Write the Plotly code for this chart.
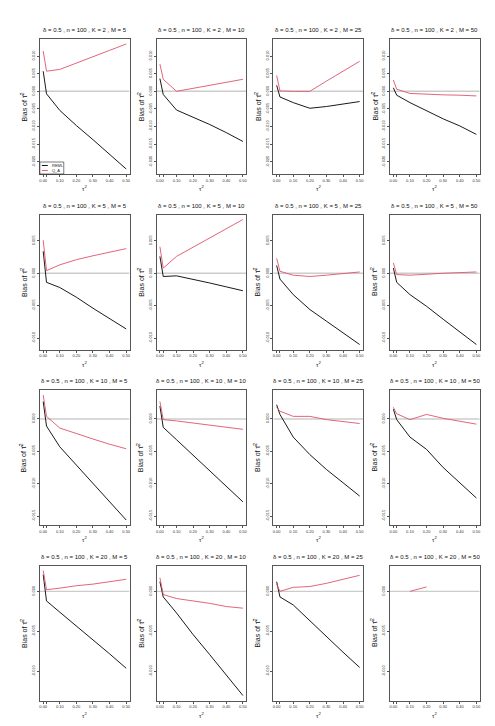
import plotly.graph_objects as go
from plotly.subplots import make_subplots

# tau^2 grid used in the simulation
tau2 = [0, 0.02, 0.1, 0.2, 0.3, 0.4, 0.5]
tau2_ticks = [0, 0.02, 0.1, 0.2, 0.3, 0.4, 0.5]
tau2_labels = ["0.00", "", "0.10", "0.20", "0.30", "0.40", "0.50"]

K_values = [2, 5, 10, 20]
M_values = [5, 10, 25, 50]

# bias of tau^2 estimate, one list per M (columns), REML
reml_K2 = [
    [0.0057, -0.0007, -0.0054, -0.0097, -0.0137, -0.0179, -0.0220],
    [0.0036, -0.0009, -0.0053, -0.0073, -0.0094, -0.0117, -0.0142],
    [0.0017, -0.0016, -0.0032, -0.0048, -0.0043, -0.0036, -0.0029],
    [0.0010, -0.0011, -0.0032, -0.0056, -0.0078, -0.0098, -0.0122],
]
qa_K2 = [
    [0.0114, 0.0057, 0.0062, 0.0079, 0.0098, 0.0116, 0.0134],
    [0.0077, 0.0034, 0.0000, 0.0008, 0.0016, 0.0025, 0.0034],
    [0.0045, 0.0001, 0.0000, 0.0000, 0.0029, 0.0057, 0.0085],
    [0.0032, 0.0006, -0.0006, -0.0009, -0.0010, -0.0011, -0.0013],
]
reml_K5 = [
    [0.0034, -0.0014, -0.0022, -0.0037, -0.0054, -0.0070, -0.0086],
    [0.0026, -0.0005, -0.0004, -0.0009, -0.0015, -0.0021, -0.0027],
    [0.0012, -0.0009, -0.0033, -0.0056, -0.0074, -0.0092, -0.0110],
    [0.0008, -0.0014, -0.0033, -0.0051, -0.0071, -0.0091, -0.0110],
]
qa_K5 = [
    [0.0051, 0.0004, 0.0013, 0.0021, 0.0027, 0.0032, 0.0038],
    [0.0041, 0.0008, 0.0026, 0.0040, 0.0054, 0.0069, 0.0083],
    [0.0023, 0.0003, -0.0003, -0.0005, -0.0003, 0.0000, 0.0002],
    [0.0016, -0.0002, -0.0003, -0.0001, 0.0000, 0.0001, 0.0002],
]
reml_K10 = [
    [0.0027, -0.0011, -0.0043, -0.0071, -0.0099, -0.0128, -0.0156],
    [0.0020, -0.0013, -0.0032, -0.0056, -0.0080, -0.0104, -0.0128],
    [0.0022, 0.0007, -0.0028, -0.0055, -0.0078, -0.0098, -0.0119],
    [0.0015, -0.0001, -0.0028, -0.0047, -0.0075, -0.0098, -0.0122],
]
qa_K10 = [
    [0.0037, 0.0004, -0.0014, -0.0023, -0.0031, -0.0039, -0.0046],
    [0.0027, -0.0001, -0.0003, -0.0006, -0.0009, -0.0013, -0.0016],
    [0.0018, 0.0012, 0.0004, 0.0004, -0.0001, -0.0004, -0.0007],
    [0.0018, 0.0008, -0.0001, 0.0007, 0.0001, -0.0004, -0.0008],
]
reml_K20 = [
    [0.0021, -0.0012, -0.0026, -0.0043, -0.0061, -0.0078, -0.0096],
    [0.0012, -0.0007, -0.0027, -0.0054, -0.0079, -0.0105, -0.0130],
    [0.0012, -0.0007, -0.0017, -0.0037, -0.0056, -0.0076, -0.0095],
    [None, None, None, None, None, None, None],
]
qa_K20 = [
    [0.0026, 0.0002, 0.0004, 0.0007, 0.0009, 0.0012, 0.0015],
    [0.0017, -0.0004, -0.0009, -0.0012, -0.0015, -0.0019, -0.0021],
    [0.0009, 0.0000, 0.0005, 0.0006, 0.0010, 0.0015, 0.0020],
    [None, None, 0.0000, 0.00055, None, None, None],
]

reml_rows = [reml_K2, reml_K5, reml_K10, reml_K20]
qa_rows = [qa_K2, qa_K5, qa_K10, qa_K20]
ytick_lo = [-0.020, -0.010, -0.015, -0.010]
ytick_hi = [0.010, 0.005, 0.000, 0.000]

W, H = 495, 726
FONT = "Liberation Sans"
BLACK = "#000000"
RED = "#DF536B"
BOX = "#555555"
TXT = "#333333"

col_left = [31, 148.2, 265.4, 382.6]
box_w = 90
row_top = [31, 206.5, 382, 557.5]
box_h = 135


def px_x(x):
    return x / W


def px_y(y):
    return 1 - y / H


fig = make_subplots(rows=4, cols=4)
annotations = []
shapes = []

for r in range(4):
    vals = [v for s in reml_rows[r] + qa_rows[r] for v in s if v is not None]
    lo, hi = min(vals), max(vals)
    ext = 0.04 * (hi - lo)
    yrange = [lo - ext, hi + ext]
    for c in range(4):
        idx = r * 4 + c + 1
        fig.add_trace(go.Scatter(x=[-0.02, 0.52], y=[0, 0], mode="lines",
                                 line=dict(color="#CCCCCC", width=1.4),
                                 showlegend=False, hoverinfo="skip"),
                      row=r + 1, col=c + 1)
        fig.add_trace(go.Scatter(x=tau2, y=reml_rows[r][c], mode="lines",
                                 name="REML", line=dict(color=BLACK, width=0.9),
                                 showlegend=False, connectgaps=False),
                      row=r + 1, col=c + 1)
        fig.add_trace(go.Scatter(x=tau2, y=qa_rows[r][c], mode="lines",
                                 name="Q_A", line=dict(color=RED, width=0.9),
                                 showlegend=False, connectgaps=False),
                      row=r + 1, col=c + 1)

        x0, y0 = col_left[c], row_top[r]
        xd = [px_x(x0), px_x(x0 + box_w)]
        yd = [px_y(y0 + box_h), px_y(y0)]
        axis_common = dict(showline=True, mirror=True, linecolor=BOX, linewidth=1,
                           showgrid=False, zeroline=False, ticks="outside",
                           ticklen=2, tickwidth=0.6, tickcolor=BOX,
                           tickfont=dict(size=4, family=FONT, color=TXT))
        fig.update_xaxes(domain=xd, range=[-0.02, 0.52], tickmode="array",
                         tickvals=tau2_ticks, ticktext=tau2_labels,
                         row=r + 1, col=c + 1, **axis_common)
        nt = int(round((ytick_hi[r] - ytick_lo[r]) / 0.005)) + 1
        yt = [ytick_lo[r] + 0.005 * i for i in range(nt)]
        fig.update_yaxes(domain=yd, range=yrange, tickmode="array",
                         tickvals=yt, ticktext=["%.3f" % v for v in yt],
                         tickangle=-90, row=r + 1, col=c + 1, **axis_common)

        cx = x0 + box_w / 2
        annotations.append(dict(
            text="δ = 0.5 , n = 100 , K = %d , M = %d" % (K_values[r], M_values[c]),
            x=px_x(cx), y=px_y(y0 - 9), xref="paper", yref="paper",
            showarrow=False, font=dict(size=6, family=FONT, color="#111111"),
            xanchor="center", yanchor="middle"))
        annotations.append(dict(
            text="Bias of τ̂<sup>2</sup>", x=px_x(x0 - 16), y=px_y(y0 + box_h / 2),
            xref="paper", yref="paper", showarrow=False, textangle=-90,
            font=dict(size=7, family=FONT, color="#111111"),
            xanchor="center", yanchor="middle"))
        annotations.append(dict(
            text="τ<sup>2</sup>", x=px_x(cx), y=px_y(y0 + box_h + 14),
            xref="paper", yref="paper", showarrow=False,
            font=dict(size=6, family=FONT, color="#111111"),
            xanchor="center", yanchor="middle"))

# legend box in the first panel
lx, ly = col_left[0], row_top[0] + box_h
shapes.append(dict(type="rect", xref="paper", yref="paper",
                   x0=px_x(lx), x1=px_x(lx + 24), y0=px_y(ly), y1=px_y(ly - 12),
                   line=dict(color="#222222", width=0.6), fillcolor="white"))
for i, (lab, col) in enumerate([("REML", BLACK), ("Q_A", RED)]):
    yy = ly - 8.5 + i * 5
    shapes.append(dict(type="line", xref="paper", yref="paper",
                       x0=px_x(lx + 2), x1=px_x(lx + 8), y0=px_y(yy), y1=px_y(yy),
                       line=dict(color=col, width=0.9)))
    annotations.append(dict(text=lab, x=px_x(lx + 10), y=px_y(yy), xref="paper",
                            yref="paper", showarrow=False, xanchor="left",
                            yanchor="middle",
                            font=dict(size=4, family=FONT, color="#222222")))

fig.update_layout(width=W, height=H, margin=dict(l=0, r=0, t=0, b=0),
                  paper_bgcolor="white", plot_bgcolor="white",
                  annotations=annotations, shapes=shapes,
                  hovermode=False, font=dict(family=FONT))

fig.write_html("out.html")
